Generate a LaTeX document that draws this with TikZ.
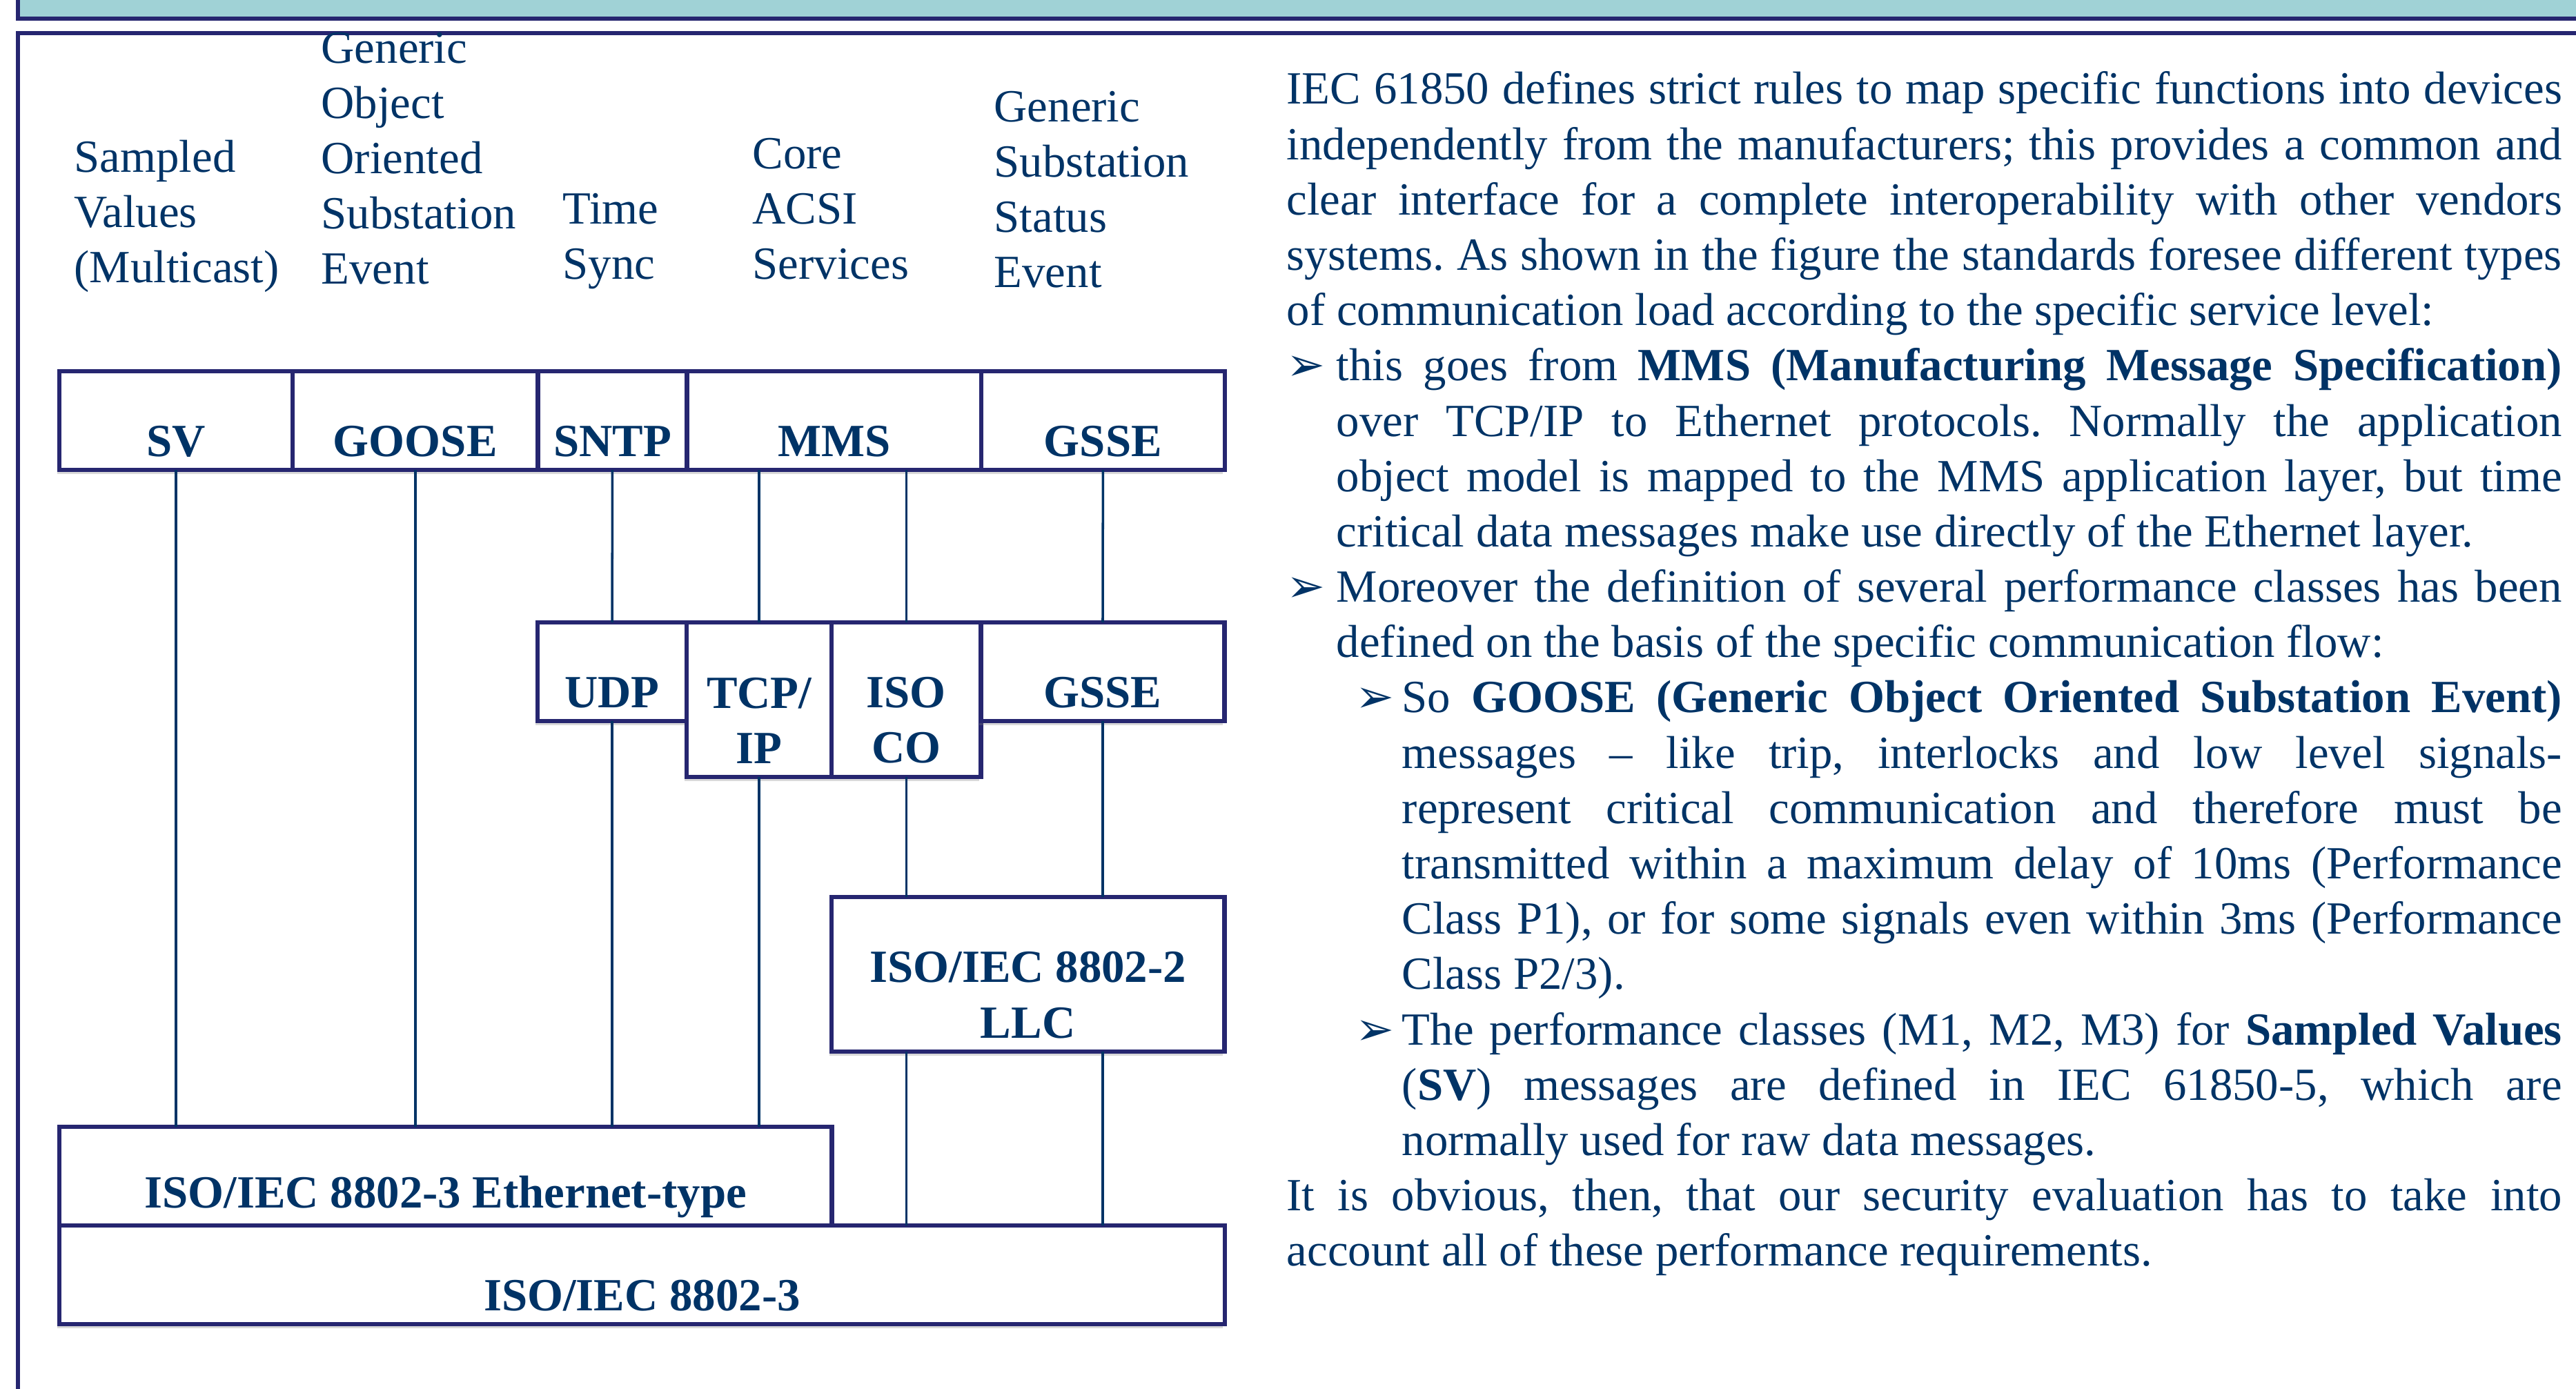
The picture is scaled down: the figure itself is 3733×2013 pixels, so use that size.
\documentclass[tikz,border=0pt]{standalone}
\usepackage{fontspec}
\setmainfont{Liberation Serif}
\newfontfamily\symfont{DejaVu Sans}
\usetikzlibrary{positioning,shadows}
\definecolor{navy}{RGB}{0,51,102}
\definecolor{edge}{RGB}{38,38,112}
\definecolor{bar}{RGB}{160,210,214}
\newcommand{\bul}{{\symfont\fontsize{19pt}{19pt}\selectfont ➢}}
\frenchspacing

\begin{document}
\begin{tikzpicture}[x=0.01cm, y=-0.01cm, font=\fontsize{19pt}{22.8pt}\selectfont, text=navy]
    \tikzstyle{box} = [rectangle, draw=edge, line width=1.8pt, fill=white, outer sep=0pt, inner sep=0pt, minimum height=1.43cm, drop shadow={shadow xshift=-0.8pt, shadow yshift=-1.8pt, opacity=0.3}]
    \tikzstyle{tag} = [font=\fontsize{19pt}{22.8pt}\selectfont\bfseries, text=navy, align=center, yshift=-0.3cm]
    \tikzstyle{head} = [anchor=base west, align=left, inner sep=0pt]
    \tikzstyle{link} = [draw=navy, line width=1pt]

    \useasboundingbox (0,0) rectangle (3733,2013);

    % Frame
    \fill[bar] (26,-20) rectangle (3760,27);
    \draw[edge, line width=1.7pt] (26,-20) -- (26,27) -- (3760,27);
    \draw[edge, line width=1.7pt] (26,2100) -- (26,48) -- (3760,48);

    % Services
    \node[head] (svhead) at (107,410) {Sampled\\Values\\(Multicast)};
    \node[head] (goosehead) at (465,412) {Generic\\Object\\Oriented\\Substation\\Event};
    \node[head] (timehead) at (815,405) {Time\\Sync};
    \node[head] (acsihead) at (1090,405) {Core\\ACSI\\Services};
    \node[head] (gssehead) at (1440,417) {Generic\\Substation\\Status\\Event};

    % Top row
    \node[box, minimum width=3.38cm, anchor=north west, label={[tag]center:SV}] (sv) at (86,538) {};
    \node[box, minimum width=3.55cm, right=0pt of sv, label={[tag]center:GOOSE}] (goose) {};
    \node[box, minimum width=2.16cm, right=0pt of goose, label={[tag]center:SNTP}] (sntp) {};
    \node[box, minimum width=4.26cm, right=0pt of sntp, label={[tag]center:MMS}] (mms) {};
    \node[box, minimum width=3.53cm, right=0pt of mms, label={[tag]center:GSSE}] (gsse) {};

    % Transport row
    \node[box, minimum width=2.16cm, anchor=north west, label={[tag]center:UDP}] (udp) at (779,902) {};
    \node[box, minimum width=2.10cm, minimum height=2.24cm, anchor=north west, label={[tag]center:{TCP/\\IP}}] (tcp) at (udp.north east) {};
    \node[box, minimum width=2.16cm, minimum height=2.24cm, anchor=north west, label={[tag]center:{ISO\\CO}}] (iso) at (tcp.north east) {};
    \node[box, minimum width=3.53cm, anchor=north west, label={[tag]center:GSSE}] (gsselow) at (iso.north east) {};

    % Link layers
    \node[box, minimum width=5.69cm, minimum height=2.24cm, anchor=north west, label={[tag]center:{ISO/IEC 8802-2\\LLC}}] (llc) at (1205,1300) {};
    \node[box, minimum width=11.19cm, anchor=north west, label={[tag]center:ISO/IEC 8802-3 Ethernet-type}] (eth) at (86,1633) {};
    \node[box, minimum width=16.88cm, anchor=north west, label={[tag]center:ISO/IEC 8802-3}] (phy) at (86,1776) {};

    % Links
    \draw[link] (sv.south) -- (sv.south |- eth.north);
    \draw[link] (goose.south) -- (goose.south |- eth.north);
    \draw[link] (sntp.south) -- (udp.north);
    \draw[link] (udp.south) -- (udp.south |- eth.north);
    \draw[link] (tcp.north |- mms.south) -- (tcp.north);
    \draw[link] (tcp.south) -- (tcp.south |- eth.north);
    \draw[link] (iso.north |- mms.south) -- (iso.north);
    \draw[link] (iso.south) -- (iso.south |- llc.north);
    \draw[link] (iso.south |- llc.south) -- (iso.south |- phy.north);
    \draw[link] (gsse.south) -- (gsselow.north);
    \draw[link] (gsselow.south) -- (gsselow.south |- llc.north);
    \draw[link] (gsselow.south |- llc.south) -- (gsselow.south |- phy.north);

    % Description
    \node[anchor=base west, text width=18.47cm, inner sep=0pt, align=justify] (desc) at (1864,151) {%
        IEC 61850 defines strict rules to map specific functions into devices\linebreak
        independently from the manufacturers; this provides a common and\linebreak
        clear interface for a complete interoperability with other vendors\linebreak
        systems. As shown in the figure the standards foresee different types\linebreak
        of communication load according to the specific service level:\par
        \noindent\hangindent=0.72cm\hangafter=1\makebox[0.72cm][l]{\bul}this goes from \textbf{MMS (Manufacturing Message Specification)}\linebreak
        over TCP/IP to Ethernet protocols. Normally the application\linebreak
        object model is mapped to the MMS application layer, but time\linebreak
        critical data messages make use directly of the Ethernet layer.\par
        \noindent\hangindent=0.72cm\hangafter=1\makebox[0.72cm][l]{\bul}Moreover the definition of several performance classes has been\linebreak
        defined on the basis of the specific communication flow:\par
        \noindent\hangindent=1.67cm\hangafter=1\hspace*{1cm}\makebox[0.67cm][l]{\bul}So \textbf{GOOSE (Generic Object Oriented Substation Event)}\linebreak
        messages -- like trip, interlocks and low level signals-\linebreak
        represent critical communication and therefore must be\linebreak
        transmitted within a maximum delay of 10ms (Performance\linebreak
        Class P1), or for some signals even within 3ms (Performance\linebreak
        Class P2/3).\par
        \noindent\hangindent=1.67cm\hangafter=1\hspace*{1cm}\makebox[0.67cm][l]{\bul}The performance classes (M1, M2, M3) for \textbf{Sampled Values}\linebreak
        (\textbf{SV}) messages are defined in IEC 61850-5, which are\linebreak
        normally used for raw data messages.\par
        \noindent It is obvious, then, that our security evaluation has to take into\linebreak
        account all of these performance requirements.};
\end{tikzpicture}
\end{document}
